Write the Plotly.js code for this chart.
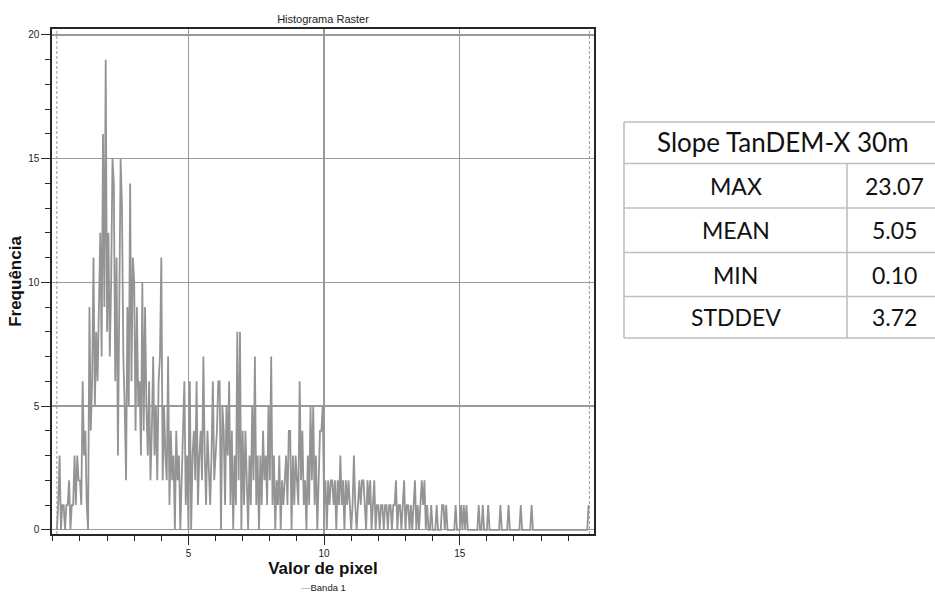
<!DOCTYPE html>
<html><head><meta charset="utf-8">
<script src="https://cdn.plot.ly/plotly-3.0.1.min.js"></script>
<style>html,body{margin:0;padding:0;background:#fff}#chart{width:935px;height:597px}</style>
</head><body><div id="chart"></div>
<script>
// ---- data ----
const binStart = 0.15;   // first bin centre (pixel value)
const binWidth = 0.05;   // histogram bin width
// frequencies, pixel value 0.15 .. 4.95
const counts_0_5 = [
  0,1,3,0,1,1,0,1,1,2,0,1,1,3,1,3,2,
  2,1,6,3,4,1,0,9,4,6,11,5,8,6,10,12,7,16,9,19,
  8,12,7,10,15,14,6,11,3,10,15,13,7,5,2,9,5,14,6,11,
  10,4,9,5,6,3,10,4,9,5,3,6,2,4,7,3,5,2,6,7,
  11,2,5,3,2,7,1,4,2,3,0,4,2,3,0,2,4,6,1,3
];
// 5.00 .. 9.95
const counts_5_10 = [
  0,6,0,3,4,2,6,1,3,4,2,7,3,1,4,2,1,3,6,2,
  3,4,6,6,0,5,4,1,5,3,6,1,4,0,3,1,8,2,8,0,
  4,1,4,2,0,3,1,5,2,7,1,3,0,3,1,4,2,3,1,5,
  2,7,1,3,0,2,1,3,0,2,1,2,3,1,4,4,0,3,1,3,
  2,1,6,2,4,1,2,0,3,1,5,2,5,1,3,0,2,4,4,5
];
// 10.00 .. 14.95
const counts_10_15 = [
  1,2,0,2,1,2,2,1,2,0,2,1,3,1,2,0,2,1,2,1,
  0,1,3,1,0,1,2,1,2,2,1,0,2,1,2,0,1,2,0,1,
  1,0,1,1,0,1,1,0,1,1,0,1,1,2,0,1,1,0,1,2,
  0,1,1,0,1,0,1,2,0,1,0,1,2,1,2,0,1,0,0,1,
  0,0,0,1,0,0,0,1,1,0,1,0,0,0,0,0,0,1,0,0
];
// 15.00 .. 19.75
const counts_15_20 = [
  0,1,0,1,0,1,0,0,0,0,0,0,0,0,1,0,0,1,0,0,
  0,1,0,0,0,0,0,0,0,0,1,0,0,0,0,0,1,0,0,0,
  0,0,0,0,0,1,0,0,0,0,0,0,0,1,0,0,0,0,0,0,
  0,0,0,0,0,0,0,0,0,0,0,0,0,0,0,0,0,0,0,0,
  0,0,0,0,0,0,0,0,0,0,0,0,0,0,0,1
];
const rangeMarkers = [0.15, 19.78];      // min / max markers (dashed)
const yTicks = [0, 5, 10, 15, 20];
const xTicks = [5, 10, 15];
const seriesName = 'Banda 1';
const chartTitle = 'Histograma Raster';
const xTitle = 'Valor de pixel';
const yTitle = 'Frequência';
const tableTitle = 'Slope TanDEM-X 30m';
const statLabels = ['MAX', 'MEAN', 'MIN', 'STDDEV'];
const statValues = ['23.07', '5.05', '0.10', '3.72'];

// ---- build ----
const counts = counts_0_5.concat(counts_5_10, counts_10_15, counts_15_20);
const xs = counts.map((_, i) => +(binStart + i * binWidth).toFixed(2));

const W = 935, H = 597;
const M = {l: 52, r: 341, t: 29, b: 63};
const plotW = W - M.l - M.r, plotH = H - M.t - M.b;
const px2x = p => (p - M.l) / plotW;
const py2y = p => 1 - (p - M.t) / plotH;

const shapes = rangeMarkers.map(v => ({
  type: 'line', xref: 'x', yref: 'paper', x0: v, x1: v, y0: 0, y1: 1,
  line: {color: '#9a9a9a', width: 1, dash: '3px,2px'}
}));

// table geometry (pixels)
const T = {left: 624, mid: 847, right: 942, rows: [122, 163.5, 208, 252.5, 296.5, 338]};
const tline = {color: '#bfbfbf', width: 1.6};
T.rows.forEach((ry) => {
  shapes.push({type: 'line', xref: 'paper', yref: 'paper',
    x0: px2x(T.left), x1: px2x(T.right), y0: py2y(ry), y1: py2y(ry), line: tline});
});
shapes.push({type: 'line', xref: 'paper', yref: 'paper', x0: px2x(T.left), x1: px2x(T.left),
  y0: py2y(T.rows[0]), y1: py2y(T.rows[T.rows.length - 1]), line: tline});
shapes.push({type: 'line', xref: 'paper', yref: 'paper', x0: px2x(T.mid), x1: px2x(T.mid),
  y0: py2y(T.rows[1]), y1: py2y(T.rows[T.rows.length - 1]), line: tline});

const tFont = {family: 'Lato, Carlito, sans-serif', size: 23, color: '#111'};
const annotations = [];
annotations.push({xref: 'paper', yref: 'paper', x: px2x((T.left + T.right) / 2),
  y: py2y((T.rows[0] + T.rows[1]) / 2 - 1), text: tableTitle, showarrow: false,
  xanchor: 'center', yanchor: 'middle', font: Object.assign({}, tFont, {size: 26})});
statLabels.forEach((lab, i) => {
  const cy = py2y((T.rows[i + 1] + T.rows[i + 2]) / 2);
  annotations.push({xref: 'paper', yref: 'paper', x: px2x((T.left + T.mid) / 2), y: cy,
    text: lab, showarrow: false, xanchor: 'center', yanchor: 'middle', font: tFont});
  annotations.push({xref: 'paper', yref: 'paper', x: px2x((T.mid + T.right) / 2), y: cy,
    text: statValues[i], showarrow: false, xanchor: 'center', yanchor: 'middle', font: tFont});
});
// legend entry
annotations.push({xref: 'paper', yref: 'paper', x: 0.5, y: py2y(587), showarrow: false,
  xanchor: 'center', yanchor: 'middle',
  text: '<span style="color:#8c8c8c">—</span>' + seriesName,
  font: {family: 'Liberation Sans, Arial, sans-serif', size: 9.5, color: '#222'}});

const tickFont = {family: 'Liberation Sans, Arial, sans-serif', size: 10, color: '#222'};
const axisCommon = {
  showline: true, linecolor: '#262626', linewidth: 1.6, mirror: true,
  ticks: 'outside', ticklen: 9, tickwidth: 1, tickcolor: '#262626',
  showgrid: true, gridcolor: '#9a9a9a', gridwidth: 1.4, zeroline: false,
  tickfont: tickFont, automargin: false, fixedrange: true
};

const data = [{
  type: 'scatter', mode: 'lines', name: seriesName, x: xs, y: counts,
  line: {color: 'rgb(148,148,148)', width: 1.8}, showlegend: false, hoverinfo: 'x+y'
}];

const layout = {
  width: W, height: H, margin: M, paper_bgcolor: '#fff', plot_bgcolor: '#fff',
  showlegend: false,
  title: {text: chartTitle, x: 0.5, xref: 'paper', xanchor: 'center',
    y: 1 - 19 / H, yref: 'container', yanchor: 'middle',
    font: {family: 'Liberation Sans, Arial, sans-serif', size: 11, color: '#222'}},
  xaxis: Object.assign({}, axisCommon, {
    range: [-0.03, 19.95], tickmode: 'array', tickvals: xTicks,
    minor: {tickmode: 'linear', tick0: 0, dtick: 1, ticklen: 5, tickcolor: '#262626', showgrid: false},
    title: {text: xTitle, standoff: 2,
      font: {family: 'Liberation Sans, Arial, sans-serif', size: 17, color: '#111', weight: 'bold'}}
  }),
  yaxis: Object.assign({}, axisCommon, {
    range: [-0.17, 20.24], tickmode: 'array', tickvals: yTicks,
    minor: {tickmode: 'linear', tick0: 0, dtick: 1, ticklen: 5, tickcolor: '#262626', showgrid: false},
    title: {text: yTitle, standoff: 2,
      font: {family: 'Liberation Sans, Arial, sans-serif', size: 17, color: '#111', weight: 'bold'}}
  }),
  shapes: shapes,
  annotations: annotations
};

Plotly.newPlot('chart', data, layout, {displayModeBar: false, staticPlot: true});
</script></body></html>
